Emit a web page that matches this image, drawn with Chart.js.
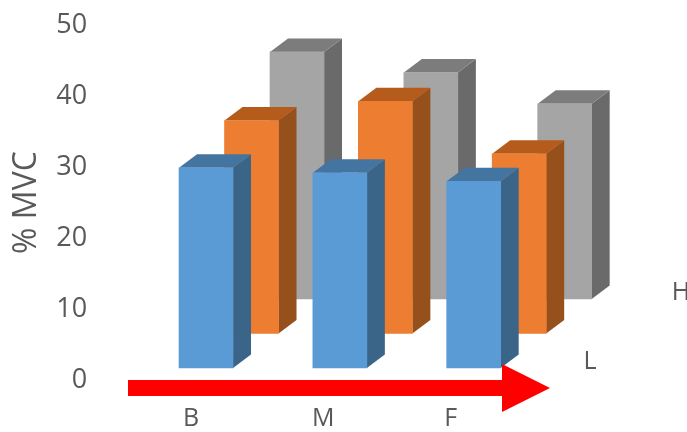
<!DOCTYPE html>
<html>
<head>
<meta charset="utf-8">
<style>
  html, body { margin: 0; padding: 0; background: #fff; }
  canvas { display: block; }
</style>
<script src="https://cdn.jsdelivr.net/npm/chart.js@4"></script>
</head>
<body>
<canvas id="graficoBarras" width="687" height="432"></canvas>
<script>
const categories = ['B', 'M', 'F'];
const yTicks = [0, 10, 20, 30, 40, 50];
const seriesNames = ['L', '', 'H'];
const serieL = [28.2, 27.5, 26.3];
const serieM = [30.0, 32.7, 25.3];
const serieH = [34.8, 31.9, 27.5];

const texto = '#595959';
const fuente = '"Open Sans", sans-serif';

// front, top and side colours of each row, nearest row first
const caras = [
  { front: '#5b9bd5', top: '#4475a1', side: '#3a6488' },
  { front: '#ed7d31', top: '#b55b1c', side: '#96501c' },
  { front: '#a5a5a5', top: '#7c7c7c', side: '#6a6a6a' }
];

// where each row sits on the floor
const rowShift = [
  { x: 0, y: -12 },
  { x: 45.5, y: -46.5 },
  { x: 91, y: -81 }
];
const depth = { x: 18, y: -13.5 };
const catLabelShift = [-15, -16.5, -23];

const bars3d = {
  id: 'bars3d',
  beforeDatasetDraw(chart, args) {
    const ctx = chart.ctx;
    const shift = rowShift[args.index];
    const cara = caras[args.index];
    ctx.save();
    ctx.translate(shift.x, shift.y);
    args.meta.data.forEach(bar => {
      const { x, y, base, width } = bar.getProps(['x', 'y', 'base', 'width'], true);
      const l = x - width / 2;
      const r = x + width / 2;

      ctx.fillStyle = cara.side;
      ctx.beginPath();
      ctx.moveTo(r, y);
      ctx.lineTo(r + depth.x, y + depth.y);
      ctx.lineTo(r + depth.x, base + depth.y);
      ctx.lineTo(r, base);
      ctx.closePath();
      ctx.fill();

      ctx.fillStyle = cara.top;
      ctx.beginPath();
      ctx.moveTo(l, y);
      ctx.lineTo(l + depth.x, y + depth.y);
      ctx.lineTo(r + depth.x, y + depth.y);
      ctx.lineTo(r, y);
      ctx.closePath();
      ctx.fill();
    });
  },
  afterDatasetDraw(chart) {
    chart.ctx.restore();
  },
  afterDraw(chart) {
    const ctx = chart.ctx;
    const x = chart.scales.x;
    const floor = chart.chartArea.bottom;
    ctx.save();

    // category names under the floor
    ctx.fillStyle = texto;
    ctx.font = '25px ' + fuente;
    ctx.textAlign = 'center';
    ctx.textBaseline = 'middle';
    categories.forEach((name, i) => {
      ctx.fillText(name, x.getPixelForTick(i) + catLabelShift[i], floor + 39);
    });

    // series names along the depth axis
    seriesNames.forEach((name, i) => {
      if (name) {
        ctx.fillText(name, 590 + rowShift[i].x, floor - 6 + rowShift[i].y);
      }
    });

    // red arrow across the front
    ctx.fillStyle = '#ff0000';
    ctx.beginPath();
    ctx.moveTo(128, floor);
    ctx.lineTo(502, floor);
    ctx.lineTo(502, floor - 16);
    ctx.lineTo(550, floor + 8);
    ctx.lineTo(502, floor + 32);
    ctx.lineTo(502, floor + 16);
    ctx.lineTo(128, floor + 16);
    ctx.closePath();
    ctx.fill();
    ctx.restore();
  }
};

new Chart(document.getElementById('graficoBarras').getContext('2d'), {
  type: 'bar',
  plugins: [bars3d],
  data: {
    labels: categories,
    datasets: [serieL, serieM, serieH].map((values, i) => ({
      label: seriesNames[i],
      data: values,
      backgroundColor: caras[i].front,
      borderWidth: 0,
      barThickness: 54,
      grouped: false,
      clip: false
    }))
  },
  options: {
    responsive: false,
    animation: false,
    layout: { padding: { top: 25, bottom: 52, right: 146.4 } },
    plugins: { legend: { display: false }, tooltip: { enabled: false } },
    scales: {
      x: {
        grid: { display: false },
        border: { display: false },
        ticks: { display: false },
        afterFit(scale) { scale.height = 0; }
      },
      y: {
        min: yTicks[0],
        max: yTicks[yTicks.length - 1],
        afterFit(scale) {
          scale.width = 139.1;
          scale.paddingTop = 0;
          scale.paddingBottom = 0;
        },
        afterBuildTicks(scale) { scale.ticks = yTicks.map(value => ({ value })); },
        grid: { display: false, drawTicks: false },
        border: { display: false },
        ticks: { color: texto, font: { family: fuente, size: 27 }, padding: 52 },
        title: {
          display: true,
          text: '% MVC',
          color: texto,
          font: { family: fuente, size: 32, lineHeight: 1.2 },
          padding: { top: 8, bottom: 0 }
        }
      }
    }
  }
});
</script>
</body>
</html>
